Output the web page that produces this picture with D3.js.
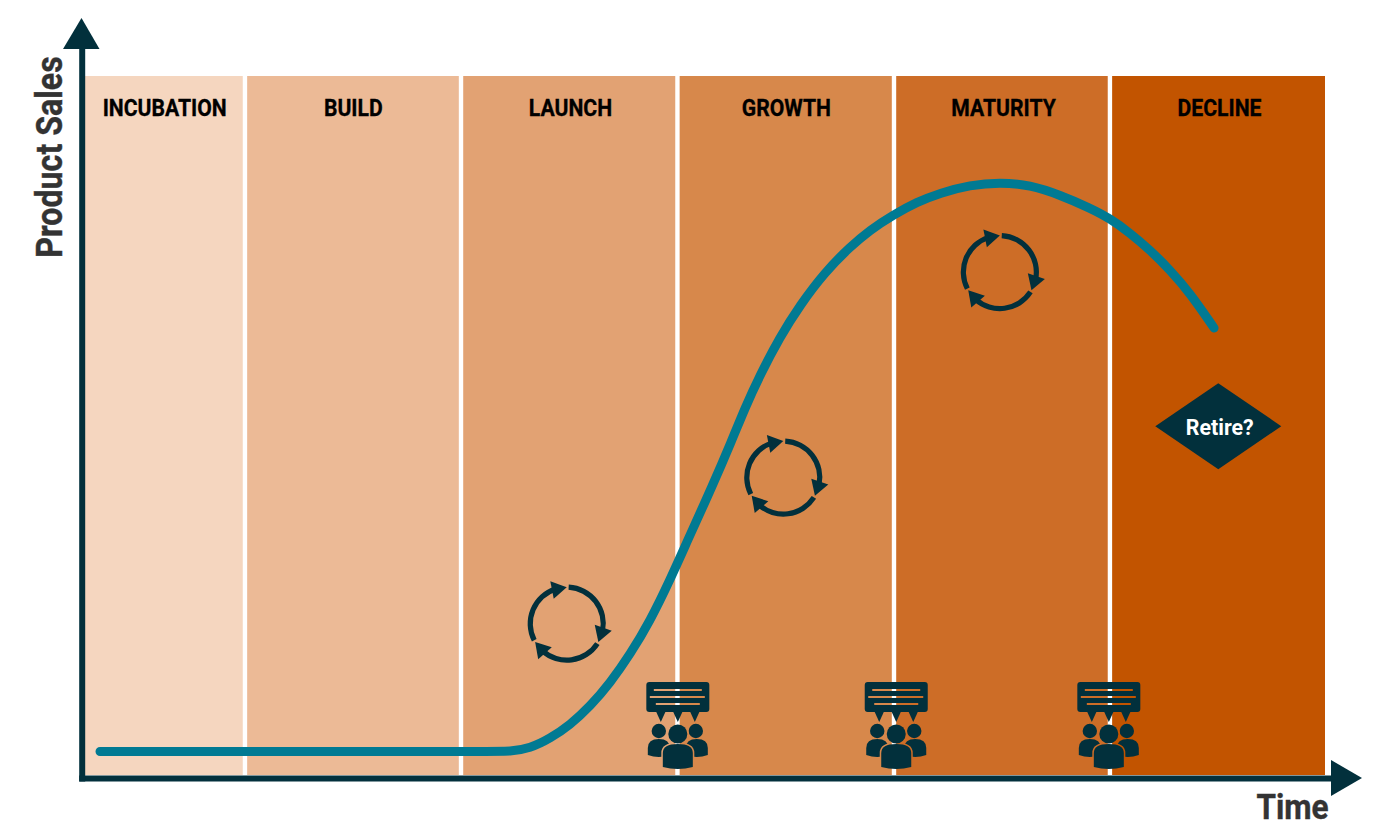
<!DOCTYPE html>
<html><head><meta charset="utf-8">
<script src="https://cdn.jsdelivr.net/npm/d3@7"></script>
<style>html,body{margin:0;padding:0;background:#fff}svg{display:block}text{font-family:Roboto,sans-serif;font-weight:700}</style>
</head><body><svg id="c" width="1384" height="832"></svg>
<script>
const phases=["INCUBATION","BUILD","LAUNCH","GROWTH","MATURITY","DECLINE"];
const phaseEdges=[0,12.97,30.38,47.82,65.27,82.67,100];
const phaseLabelTime=[6.5,21.7,39.2,56.6,74.1,91.5];
const phaseColors=["#f5d6bf","#ecba96","#e2a273","#d7884b","#cd6d27","#c25400"];
const curveTime=[1.29,32.72,34.33,35.94,37.55,39.16,40.77,42.39,44.00,45.61,47.22,48.83,50.60,52.22,53.26,54.47,56.08,57.70,59.71,61.72,63.34,65.19,67.12,68.98,71.39,73.81,76.23,78.65,81.06,82.68,84.29,85.90,87.51,89.12,91.06];
const curveSales=[3.36,3.36,3.36,3.82,5.22,7.15,9.80,13.16,17.24,22.03,27.90,34.33,41.2,47.93,52.50,57.22,62.66,67.24,71.96,75.54,77.97,80.11,81.97,83.26,84.41,84.79,84.41,82.98,81.12,79.61,77.54,75.11,72.25,68.96,63.95];
const cycleTime=[38.9,56.35,73.8];
const cycleSales=[21.65,42.55,71.95];
const meetingTime=[47.85,65.45,82.58];
const retireTime=91.4, retireSales=49.9;
const INK="#02303c", LINE="#007a93", GREY="#333333";

const svg=d3.select("#c");
const x=d3.scaleLinear().domain([0,100]).range([84,1325]);
const y=d3.scaleLinear().domain([0,100]).range([775,76]);
const GAP=2.2;

// bands
svg.append("g").selectAll("rect").data(phases).join("rect")
  .attr("x",(d,i)=>x(phaseEdges[i])+(i?GAP:0))
  .attr("width",(d,i)=>x(phaseEdges[i+1])-x(phaseEdges[i])-(i?GAP:0)-(i<5?GAP:0))
  .attr("y",y(100)).attr("height",y(0)-y(100))
  .attr("fill",(d,i)=>phaseColors[i]);

// band titles (condensed by horizontal scale)
svg.append("g").selectAll("text").data(phases).join("text")
  .attr("transform",(d,i)=>`translate(${x(phaseLabelTime[i])},116) scale(.9,1)`)
  .attr("text-anchor","middle").attr("font-size",23.5).attr("fill","#000")
  .attr("stroke","#000").attr("stroke-width",.3).text(d=>d);

// curve
svg.append("path").datum(d3.zip(curveTime,curveSales))
  .attr("d",d3.line().x(d=>x(d[0])).y(d=>y(d[1])).curve(d3.curveBasis))
  .attr("fill","none").attr("stroke",LINE).attr("stroke-width",9).attr("stroke-linecap","round");

// axes
const gx=svg.append("g").attr("transform","translate(0,778)")
  .call(d3.axisBottom(d3.scaleLinear().domain([0,100]).range([78.7,1340])).tickValues([]).tickSizeOuter(0));
gx.select(".domain").attr("stroke",INK).attr("stroke-width",6);
const gy=svg.append("g").attr("transform","translate(81.7,0)")
  .call(d3.axisLeft(d3.scaleLinear().domain([0,100]).range([781,40])).tickValues([]).tickSizeOuter(0));
gy.select(".domain").attr("stroke",INK).attr("stroke-width",6);
svg.append("path").attr("d",d3.line()([[63,49],[99.5,49],[81.5,18]])+"Z").attr("fill",INK);
svg.append("path").attr("d",d3.line()([[1331,760],[1331,796],[1362,778]])+"Z").attr("fill",INK);

svg.append("text").attr("transform","translate(62,157) rotate(-90) scale(.88,1)")
  .attr("text-anchor","middle").attr("font-size",36.6).attr("fill",GREY)
  .attr("stroke",GREY).attr("stroke-width",.4).text("Product Sales");
svg.append("text").attr("transform","translate(1292.5,819) scale(.9,1)")
  .attr("text-anchor","middle").attr("font-size",35).attr("fill",GREY)
  .attr("stroke",GREY).attr("stroke-width",.4).text("Time");

// cycle icons
const R=36.5, toRad=Math.PI/180;
const pol=(deg,r)=>[r*Math.sin(deg*toRad),-r*Math.cos(deg*toRad)];
const arc=d3.arc().innerRadius(R-2.6).outerRadius(R+2.6);
cycleTime.forEach((t,i)=>{
  const g=svg.append("g").attr("transform",`translate(${x(t)},${y(cycleSales[i])})`);
  [0,120,240].forEach(tip=>{
    g.append("path").attr("fill",INK)
      .attr("d",arc({startAngle:(tip+3)*toRad,endAngle:(tip+120-18)*toRad}));
    const p=pol(tip,R), a=(tip-11)*toRad;
    const dx=Math.cos(a),dy=Math.sin(a),nx=-dy,ny=dx,L=15,W=9;
    g.append("path").attr("fill",INK).attr("d",d3.line()([
      p,
      [p[0]-dx*L+nx*W,p[1]-dy*L+ny*W],
      [p[0]-dx*L-nx*W,p[1]-dy*L-ny*W]])+"Z");
  });
});

// meeting icons
const defs=svg.append("defs");
const m=defs.append("mask").attr("id","cut").attr("maskUnits","userSpaceOnUse")
  .attr("x",-40).attr("y",670).attr("width",80).attr("height",110);
m.append("rect").attr("x",-40).attr("y",670).attr("width",80).attr("height",110).attr("fill","#fff");
const bodyPath=(l,r,t,b)=>{const c=(l+r)/2;
  return `M${l},${b-2}L${l},${t+9}Q${l},${t} ${c},${t}Q${r},${t} ${r},${t+9}L${r},${b-2}Q${c},${b+2} ${l},${b-2}Z`;};
m.append("path").attr("d",bodyPath(-15,15,744,769)).attr("fill","#000").attr("stroke","#000").attr("stroke-width",3);
m.append("circle").attr("cx",0).attr("cy",734).attr("r",11).attr("fill","#000");
meetingTime.forEach(t=>{
  const g=svg.append("g").attr("transform",`translate(${x(t)},0)`).attr("fill",INK);
  const p=d3.path();
  const l=-31.5,rr=31.5,tp=682,bt=712,c=3;
  p.moveTo(l+c,tp);p.lineTo(rr-c,tp);p.arcTo(rr,tp,rr,tp+c,c);p.lineTo(rr,bt-c);p.arcTo(rr,bt,rr-c,bt,c);
  p.lineTo(l+c,bt);p.arcTo(l,bt,l,bt-c,c);p.lineTo(l,tp+c);p.arcTo(l,tp,l+c,tp,c);p.closePath();
  [[-24,690,48],[-28,697,55],[-22,704,44]].forEach(b=>p.rect(b[0],b[1]-1,b[2],2));
  g.append("path").attr("d",p.toString()).attr("fill-rule","evenodd");
  [[-17,722],[0,722],[17,722]].forEach(q=>g.append("path").attr("d",d3.line()([[q[0]-5,711],[q[0]+5,711],[q[0],q[1]]])+"Z"));
  const side=g.append("g").attr("mask","url(#cut)");
  side.append("circle").attr("cx",-19).attr("cy",731).attr("r",7.2);
  side.append("circle").attr("cx",18).attr("cy",731).attr("r",7.2);
  side.append("path").attr("d",bodyPath(-30,-8,739,757));
  side.append("path").attr("d",bodyPath(8,30,739,757));
  g.append("circle").attr("cx",0).attr("cy",734).attr("r",9.5);
  g.append("path").attr("d",bodyPath(-15,15,744,769));
});

// retire diamond
const rx=x(retireTime), ry=y(retireSales);
svg.append("path").attr("fill",INK).attr("d",d3.line()([[rx-63,ry],[rx,ry-43],[rx+63,ry],[rx,ry+43]])+"Z");
svg.append("text").attr("transform",`translate(${rx+1.5},${ry+9}) scale(.93,1)`).attr("text-anchor","middle")
  .attr("font-size",23).attr("fill","#fff").text("Retire?");
</script></body></html>
